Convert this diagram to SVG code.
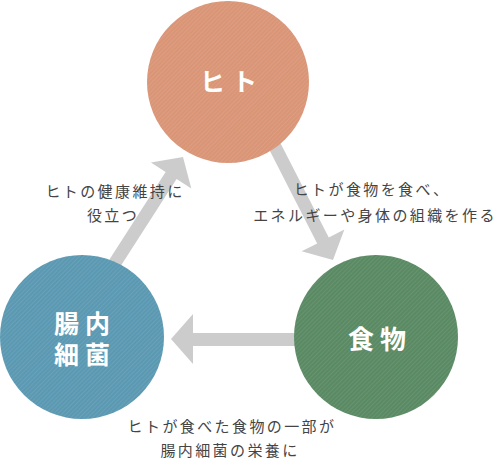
<svg xmlns="http://www.w3.org/2000/svg" width="502" height="470" viewBox="0 0 502 470">
  <style>
    .lbl { font-family: "Noto Sans CJK JP", "Noto Sans", sans-serif; font-size: 15px; fill: #444444; letter-spacing: 2.4px; text-anchor: middle; font-weight: 400; }
    .node { font-family: "Noto Sans CJK JP", "Noto Sans", sans-serif; fill: #ffffff; text-anchor: middle; font-weight: bold; }
    .arrow { fill: #cccccc; }
  </style>
  <defs>
    <pattern id="hatch" width="3" height="3" patternUnits="userSpaceOnUse" patternTransform="rotate(45)">
      <rect x="0" y="0" width="1" height="3" fill="#ffffff" fill-opacity="0.08"/>
    </pattern>
  </defs>
  <rect width="502" height="470" fill="#ffffff"/>
  <g id="connectors">
    <polygon class="arrow" transform="translate(183,157) rotate(-57.3)" points="0,0 -22,-24 -22,-6.5 -140,-6.5 -140,6.5 -22,6.5 -22,24"/>
    <polygon class="arrow" transform="translate(333,260) rotate(62.9)" points="0,0 -22,-24 -22,-6.5 -140,-6.5 -140,6.5 -22,6.5 -22,24"/>
    <polygon class="arrow" points="171,339 193,314 193,333 310,333 310,346 193,346 193,364"/>
  </g>
  <g id="node-hito">
    <circle cx="228" cy="82" r="81" fill="#da9577"/>
    <circle cx="228" cy="82" r="81" fill="url(#hatch)"/>
    <text class="node" x="232" y="91" font-size="25" font-weight="500" letter-spacing="7">ヒト</text>
  </g>
  <g id="node-food">
    <circle cx="376" cy="337" r="82" fill="#5a8a63"/>
    <circle cx="376" cy="337" r="82" fill="url(#hatch)"/>
    <text class="node" x="380" y="349" font-size="26" letter-spacing="6">食物</text>
  </g>
  <g id="node-bacteria">
    <circle cx="82" cy="337" r="82" fill="#5b99b2"/>
    <circle cx="82" cy="337" r="82" fill="url(#hatch)"/>
    <text class="node" font-size="25" letter-spacing="6"><tspan x="85" y="333">腸内</tspan><tspan x="85" y="364">細菌</tspan></text>
  </g>
  <g id="labels">
    <text class="lbl"><tspan x="115" y="197">ヒトの健康維持に</tspan><tspan x="113" y="221">役立つ</tspan></text>
    <text class="lbl"><tspan x="372" y="195">ヒトが食物を食べ、</tspan><tspan x="375" y="221">エネルギーや身体の組織を作る</tspan></text>
    <text class="lbl"><tspan x="232" y="432">ヒトが食べた食物の一部が</tspan><tspan x="230" y="456">腸内細菌の栄養に</tspan></text>
  </g>
</svg>
